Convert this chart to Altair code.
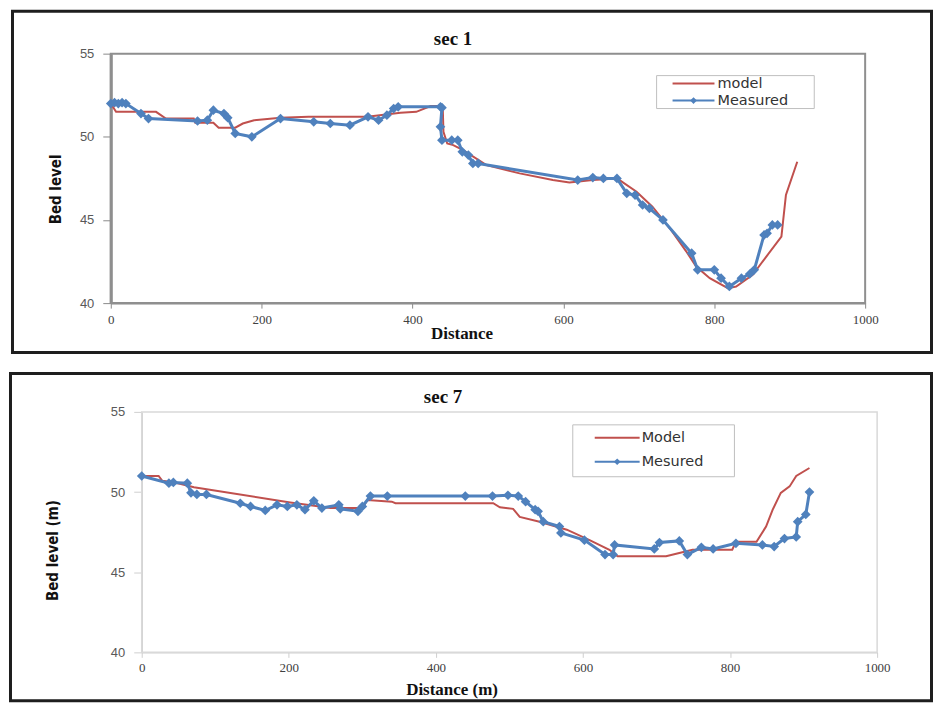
import altair as alt
import pandas as pd

# ---------------- data: sec 1 ----------------
s1_model_x = [0, 7, 60, 73, 110, 112, 136, 143, 165, 175, 190, 225, 262, 310, 340, 384, 405, 424, 440,
              441, 446, 454, 467, 498, 542, 586, 608, 639, 671, 697, 718, 741, 763, 776, 794, 818, 829,
              851, 869, 889, 895, 910]
s1_model_y = [52.0, 51.5, 51.5, 51.1, 51.1, 50.85, 50.85, 50.55, 50.55, 50.8, 51.0, 51.15, 51.2, 51.2, 51.2,
              51.45, 51.5, 51.85, 51.85, 50.3, 49.6, 49.5, 49.2, 48.3, 47.8, 47.4, 47.25, 47.4, 47.5, 46.7,
              45.8, 44.5, 43.1, 42.2, 41.5, 40.9, 41.0, 41.7, 42.8, 44.0, 46.5, 48.5]
s1_meas_x = [0, 5, 10, 15, 20, 40, 50, 115, 128, 136, 150, 155, 165, 187, 225, 269, 291, 317, 341, 355,
             366, 375, 381, 437, 439, 437, 439, 452, 460, 466, 474, 480, 487, 619, 639, 653, 671, 684,
             695, 705, 714, 732, 770, 778, 800, 809, 820, 836, 847, 853, 866, 870, 877, 884]
s1_meas_y = [52.0, 52.05, 52.0, 52.05, 52.0, 51.4, 51.1, 50.95, 51.0, 51.6, 51.4, 51.15, 50.2, 50.0, 51.1,
             50.9, 50.8, 50.7, 51.2, 51.0, 51.3, 51.7, 51.8, 51.8, 51.75, 50.6, 49.8, 49.8, 49.8, 49.1,
             48.9, 48.4, 48.4, 47.4, 47.55, 47.5, 47.5, 46.6, 46.5, 45.9, 45.7, 45.0, 43.0, 42.0, 42.0,
             41.5, 41.0, 41.5, 41.75, 42.0, 44.1, 44.2, 44.7, 44.7]

# ---------------- data: sec 7 ----------------
s7_model_x = [0, 23, 28, 45, 71, 202, 257, 300, 307, 340, 345, 478, 487, 505, 514, 541, 578, 609, 636,
              647, 713, 731, 749, 803, 808, 836, 849, 858, 869, 881, 890, 908]
s7_model_y = [51.0, 51.0, 50.7, 50.6, 50.3, 49.35, 49.0, 49.0, 49.5, 49.4, 49.3, 49.3, 49.05, 48.95, 48.45,
              48.15, 47.65, 47.0, 46.4, 46.0, 46.0, 46.2, 46.4, 46.4, 46.9, 46.9, 47.85, 48.9, 49.95,
              50.35, 51.0, 51.5]
s7_meas_x = [0, 37, 43, 62, 67, 75, 88, 134, 148, 168, 184, 198, 211, 222, 234, 245, 268, 270, 294, 300,
             311, 334, 440, 477, 498, 512, 522, 535, 539, 546, 568, 570, 602, 630, 641, 643, 697, 704,
             731, 742, 761, 777, 808, 844, 860, 874, 890, 892, 903, 908]
s7_meas_y = [51.0, 50.55, 50.6, 50.55, 49.95, 49.85, 49.85, 49.3, 49.1, 48.85, 49.2, 49.1, 49.2, 48.9, 49.45,
             49.0, 49.2, 48.95, 48.8, 49.1, 49.75, 49.75, 49.75, 49.75, 49.8, 49.75, 49.4, 48.9, 48.8,
             48.15, 47.85, 47.45, 47.0, 46.1, 46.1, 46.7, 46.45, 46.85, 46.95, 46.1, 46.55, 46.45, 46.8,
             46.7, 46.6, 47.1, 47.2, 48.15, 48.6, 50.0]

x_ticks = [0, 200, 400, 600, 800, 1000]
y_ticks = [40, 45, 50, 55]

RED = "#C0504D"
BLUE = "#4F81BD"
SERIF = "Liberation Serif, Times New Roman, serif"
SANS = "Liberation Sans, Arial, sans-serif"
NARROW = "Liberation Sans Narrow, DejaVu Sans Condensed, sans-serif"
LEG = "DejaVu Sans, sans-serif"


def one():
    return alt.Data(values=[{"k": 0}])


def sdf(xs, ys):
    return pd.DataFrame({"x": xs, "y": ys, "i": list(range(len(xs)))})


def vtext(txt, x, y, **kw):
    return alt.Chart(one()).mark_text(text=txt, **kw).encode(x=alt.value(x), y=alt.value(y))


def panel(mx, my, ex, ey, p):
    s = p["shift"]
    W, H = p["w"], p["h"]
    axcol = p["axcol"]
    xscale = alt.Scale(domain=[0, 1000], nice=False, zero=False, range=[s, s + W])
    xenc = alt.X("x:Q", scale=xscale,
                 axis=alt.Axis(values=x_ticks, format="d", title=None, grid=False, labelFont=SERIF,
                               labelFontSize=13, labelColor="#404040", tickSize=5,
                               tickColor=axcol, domainColor=axcol, domainWidth=p["xdw"],
                               labelPadding=p["xlp"], labelFlush=False))
    yenc = alt.Y("y:Q", scale=alt.Scale(domain=[40, 55], nice=False, zero=False),
                 axis=alt.Axis(values=y_ticks, title=None, grid=False, labelFont=SANS,
                               labelFontSize=13, labelColor="#595959", tickSize=8,
                               tickColor=axcol, domainColor=axcol, domainWidth=p["ydw"],
                               labelPadding=p["ylp"], offset=-s))

    border = alt.Chart(one()).mark_rect(fillOpacity=0, stroke=p["vstroke"],
                                        strokeWidth=p["vsw"]).encode(
        x=alt.value(s), x2=alt.value(s + W), y=alt.value(0), y2=alt.value(H))

    model = alt.Chart(sdf(mx, my)).mark_line(color=RED, strokeWidth=2).encode(
        x=xenc, y=yenc, order="i:Q")
    md = sdf(ex, ey)
    mline = alt.Chart(md).mark_line(color=BLUE, strokeWidth=3).encode(
        x="x:Q", y="y:Q", order="i:Q")
    mpts = alt.Chart(md).mark_point(shape="diamond", filled=True, color=BLUE, size=95,
                                    opacity=1).encode(x="x:Q", y="y:Q")

    fx1, fx2, fy1, fy2 = p["frame"]
    frame = alt.Chart(one()).mark_rect(fillOpacity=0, stroke="#1e1e1e", strokeWidth=3).encode(
        x=alt.value(fx1 + s), x2=alt.value(fx2 + s), y=alt.value(fy1), y2=alt.value(fy2))

    lx1, lx2, ly1, ly2 = p["legbox"]
    legbox = alt.Chart(one()).mark_rect(fill="white", stroke="#bfbfbf", strokeWidth=1).encode(
        x=alt.value(lx1 + s), x2=alt.value(lx2 + s), y=alt.value(ly1), y2=alt.value(ly2))
    sx1, sx2, (ly_a, ly_b), text_x = p["legsym"]
    leg_r1 = alt.Chart(one()).mark_rule(color=RED, strokeWidth=2).encode(
        x=alt.value(sx1 + s), x2=alt.value(sx2 + s), y=alt.value(ly_a))
    leg_r2 = alt.Chart(one()).mark_rule(color=BLUE, strokeWidth=2).encode(
        x=alt.value(sx1 + s), x2=alt.value(sx2 + s), y=alt.value(ly_b))
    leg_p = alt.Chart(one()).mark_point(shape="diamond", filled=True, color=BLUE, size=45,
                                        opacity=1).encode(
        x=alt.value((sx1 + sx2) / 2 + s), y=alt.value(ly_b))
    leg_t1 = vtext(p["names"][0], text_x + s, ly_a, font=LEG, fontSize=14.5, align="left",
                   baseline="middle", color="#333333")
    leg_t2 = vtext(p["names"][1], text_x + s, ly_b, font=LEG, fontSize=14.5, align="left",
                   baseline="middle", color="#333333")

    tx, ty = p["title"]
    title = vtext(p["tt"], tx + s, ty, font=SERIF, fontSize=19, fontWeight="bold",
                  align="center", baseline="middle", color="#111111")
    ax_, ay_ = p["xt"]
    xtitle = vtext(p["xtt"], ax_ + s, ay_, font=SERIF, fontSize=17, fontWeight="bold",
                   align="center", baseline="middle", color="#111111")
    bx_, by_ = p["yt"]
    ytitle = vtext(p["ytt"], bx_ + s, by_, font=NARROW, fontSize=15, fontWeight="bold",
                   angle=270, align="center", baseline="middle", color="#111111")

    return alt.layer(border, model, mline, mpts, frame, legbox, leg_r1, leg_r2, leg_p, leg_t1,
                     leg_t2, title, xtitle, ytitle).properties(
        width=s + W, height=H,
        view=alt.ViewBackground(stroke="transparent"))


top = panel(s1_model_x, s1_model_y, s1_meas_x, s1_meas_y, {
    "shift": 0,
    "w": 756, "h": 250, "axcol": "#8a8a8a", "xdw": 2, "ydw": 3, "xlp": 5, "ylp": 9,
    "frame": (-98.5, 822.5, -42.5, 299.5),
    "legbox": (547, 705, 22, 55),
    "legsym": (563, 605, (30, 47), 608),
    "names": ("model", "Measured"),
    "title": (343, -15), "tt": "sec 1",
    "xt": (352, 281), "xtt": "Distance",
    "yt": (-55, 136), "ytt": "Bed level",
    "vstroke": "#8f8f8f", "vsw": 2,
})

bottom = panel(s7_model_x, s7_model_y, s7_meas_x, s7_meas_y, {
    "shift": 31,
    "w": 737, "h": 241, "axcol": "#cfcfcf", "xdw": 1.5, "ydw": 1.5, "xlp": 4, "ylp": 9,
    "frame": (-131.5, 791.5, -38.5, 289.5),
    "legbox": (432, 594, 13, 65),
    "legsym": (454, 499, (26, 50), 501),
    "names": ("Model", "Mesured"),
    "title": (302, -15), "tt": "sec 7",
    "xt": (311, 279), "xtt": "Distance (m)",
    "yt": (-89, 139), "ytt": "Bed level (m)",
    "vstroke": "#d9d9d9", "vsw": 1.5,
})

chart = alt.vconcat(top, bottom, spacing=16).properties(
    padding={"left": 0, "top": 0, "right": 0, "bottom": 0},
    background="white",
)

chart.save("out.html", embed_options={"renderer": "svg", "actions": False})
